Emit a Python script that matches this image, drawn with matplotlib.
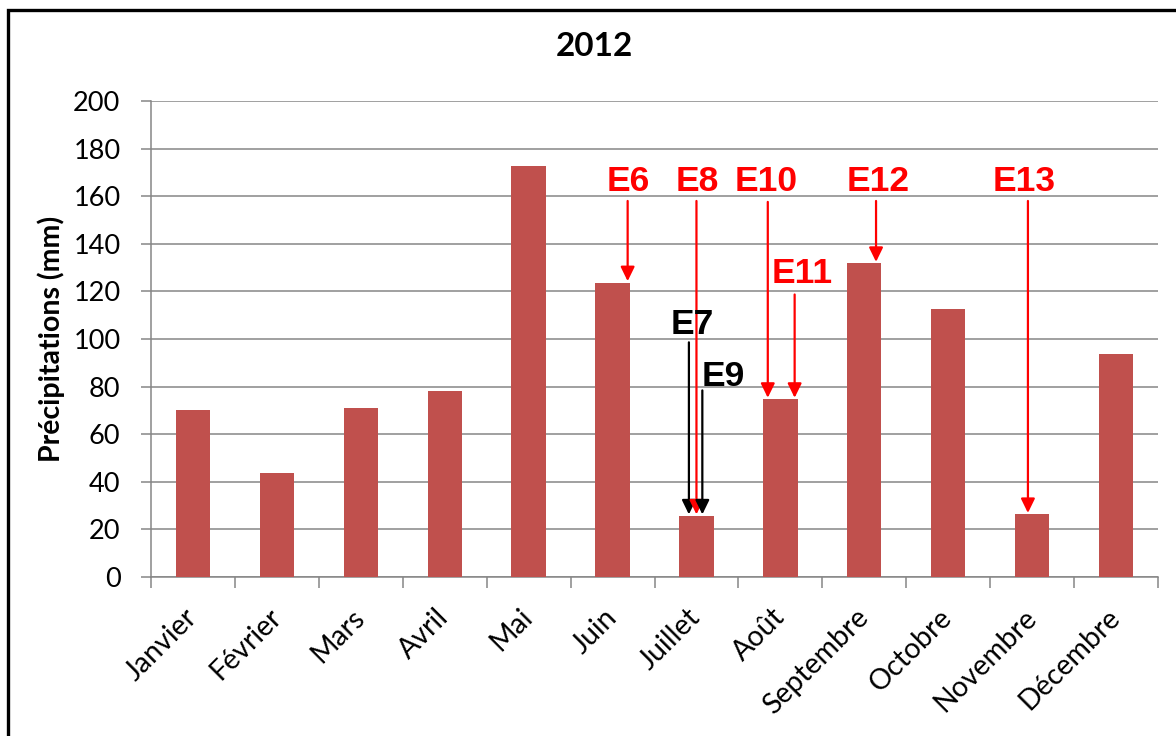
import numpy as np
import matplotlib
matplotlib.use("Agg")
import matplotlib.pyplot as plt
from matplotlib.patches import Rectangle

# Monthly precipitation, 2012
months = ['Janvier', 'Février', 'Mars', 'Avril', 'Mai', 'Juin',
          'Juillet', 'Août', 'Septembre', 'Octobre', 'Novembre', 'Décembre']
precip = [70.3, 43.5, 71.2, 78.0, 172.6, 123.7, 25.7, 74.7, 131.8, 112.4, 26.3, 93.6]

# Event markers: label, month index, offset within month, arrow start, arrow tip, text pos
event_labels = ['E6', 'E7', 'E8', 'E9', 'E10', 'E11', 'E12', 'E13']
event_month = [5, 6, 6, 6, 7, 7, 8, 10]
event_dx = [0.18, -0.09, 0.0, 0.07, -0.15, 0.17, 0.14, -0.05]
event_tail = [158, 98.6, 158, 78.4, 157.6, 118.7, 158, 158]
event_text_dx = [0.19, -0.05, 0.01, 0.32, -0.17, 0.26, 0.16, -0.09]
event_text_y = [166, 106, 166, 84.3, 166, 127.6, 166, 166]
event_colors = ['red', 'black', 'red', 'black', 'red', 'red', 'red', 'red']

plt.rcParams['font.family'] = ['Lato', 'DejaVu Sans']

fig = plt.figure(figsize=(11.76, 7.36), dpi=100)
ax = fig.add_axes([151 / 1176, 1 - 577 / 736, (1158 - 151) / 1176, (577 - 101) / 736])

x = np.arange(len(months))
ax.bar(x, precip, width=0.41, color='#C0504D', zorder=3)

ax.set_xlim(-0.5, len(months) - 0.5)
ax.set_ylim(0, 200)
ax.set_yticks(np.arange(0, 201, 20))
ax.yaxis.grid(True, color='#868686', linewidth=1.1, zorder=0)
ax.tick_params(axis='y', length=7, width=1.1, color='#868686', labelsize=19.5, pad=15)

# category boundary ticks, labels in the middle
ax.set_xticks(np.arange(-0.5, len(months), 1))
ax.set_xticklabels([])
ax.set_xticks(x, minor=True)
ax.set_xticklabels(months, minor=True, rotation=45, ha='right', va='center',
                   rotation_mode='anchor', fontsize=20.5)
ax.tick_params(axis='x', which='major', length=8, width=1.1, color='#868686')
ax.tick_params(axis='x', which='minor', length=0, pad=26)

for side in ['top', 'right']:
    ax.spines[side].set_visible(False)
for side in ['left', 'bottom']:
    ax.spines[side].set_color('#868686')
    ax.spines[side].set_linewidth(1.1)

ax.set_ylabel('Précipitations (mm)', fontsize=20.5, fontweight='bold', labelpad=6)

for i in range(len(event_labels)):
    m = event_month[i]
    xa = m + event_dx[i]
    c = event_colors[i]
    ax.annotate('', xy=(xa, precip[m] + 0.6), xytext=(xa, event_tail[i]),
                arrowprops=dict(arrowstyle='-|>,head_length=0.43,head_width=0.21',
                                mutation_scale=20, lw=1.6, color=c,
                                shrinkA=0, shrinkB=0), zorder=5)
    ax.text(m + event_text_dx[i], event_text_y[i], event_labels[i], color=c,
            fontsize=25.5, fontweight='bold', family='Liberation Sans',
            ha='center', va='center', zorder=6)

fig.text(594 / 1176, 1 - 47 / 736, '2012', fontsize=24, fontweight='bold',
         ha='center', va='center')

# chart frame (right and bottom edges fall outside the image)
fig.patches.append(Rectangle((8 / 1176, -0.1), 1.2, 1 - 10 / 736 + 0.1,
                             transform=fig.transFigure, fill=False,
                             edgecolor='black', linewidth=2.4))

fig.savefig('out.png', dpi=100)
